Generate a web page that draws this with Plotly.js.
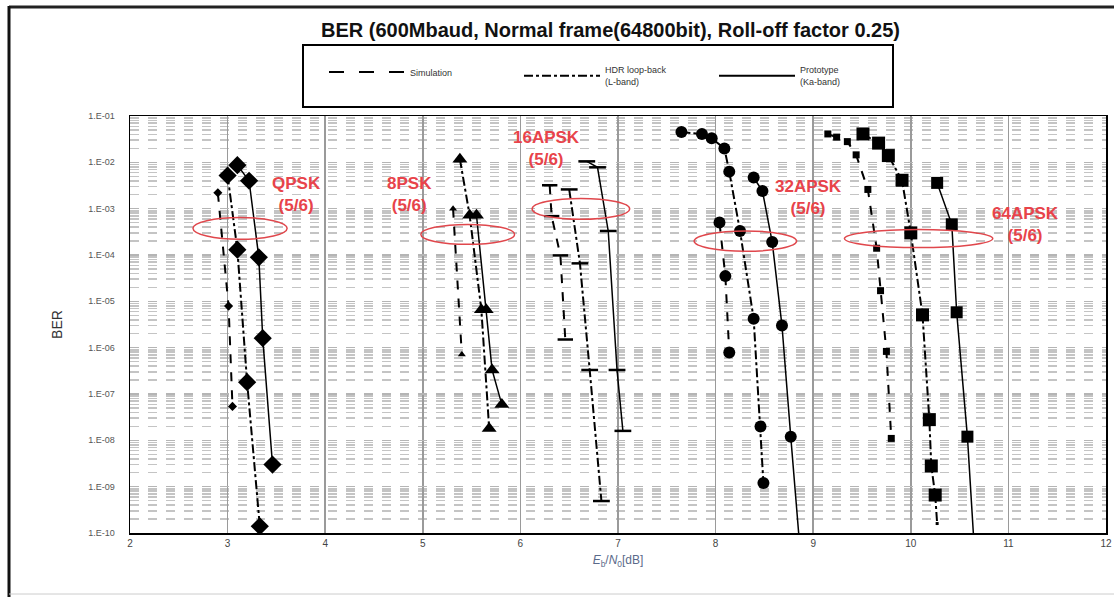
<!DOCTYPE html>
<html>
<head>
<meta charset="utf-8">
<script src="https://cdn.plot.ly/plotly-3.0.1.min.js"></script>
<style>html,body{margin:0;padding:0;background:#fff;}#chart{width:1114px;height:597px;}</style>
</head>
<body>
<div id="chart"></div>
<script>
// ---- Data (BER vs Eb/N0 [dB]) ----
const qpskSimX = [2.90, 3.01, 3.05];
const qpskSimY = [2.2e-3, 7.9e-6, 5.4e-8];
const qpskHdrX = [3.00, 3.10, 3.20, 3.33];
const qpskHdrY = [5.2e-3, 1.3e-4, 1.8e-7, 1.4e-10];
const qpskProtoX = [3.10, 3.22, 3.32, 3.36, 3.46];
const qpskProtoY = [8.7e-3, 4.0e-3, 8.9e-5, 1.6e-6, 3.0e-9];

const psk8SimX = [5.31, 5.40];
const psk8SimY = [1.0e-3, 7.1e-7];
const psk8HdrX = [5.38, 5.48, 5.60, 5.68];
const psk8HdrY = [1.17e-2, 7.2e-4, 6.6e-6, 1.8e-8];
const psk8ProtoX = [5.55, 5.65, 5.71, 5.81];
const psk8ProtoY = [7.2e-4, 6.6e-6, 3.3e-7, 5.9e-8];

const apsk16SimX = [6.30, 6.32, 6.41, 6.46];
const apsk16SimY = [3.2e-3, 6.9e-4, 9.8e-5, 1.5e-6];
const apsk16HdrX = [6.50, 6.61, 6.71, 6.83];
const apsk16HdrY = [2.6e-3, 6.6e-5, 3.3e-7, 4.9e-10];
const apsk16ProtoX = [6.68, 6.79, 6.90, 6.99, 7.05];
const apsk16ProtoY = [1.05e-2, 7.8e-3, 3.3e-4, 3.3e-7, 1.6e-8];

const apsk32SimX = [8.04, 8.10, 8.14];
const apsk32SimY = [5.0e-4, 3.5e-5, 7.9e-7];
const apsk32HdrX = [7.65, 7.86, 7.96, 8.09, 8.14, 8.25, 8.39, 8.46, 8.49];
const apsk32HdrY = [4.5e-2, 4.1e-2, 3.3e-2, 2.0e-2, 6.3e-3, 3.3e-4, 4.2e-6, 2.0e-8, 1.2e-9];
const apsk32ProtoX = [8.39, 8.48, 8.58, 8.68, 8.77, 8.89];
const apsk32ProtoY = [4.7e-3, 2.4e-3, 1.9e-4, 3.0e-6, 1.2e-8, 1.0e-11];

const apsk64SimX = [9.15, 9.24, 9.35, 9.44, 9.56, 9.65, 9.69, 9.75, 9.80];
const apsk64SimY = [4.1e-2, 3.5e-2, 2.8e-2, 1.45e-2, 2.6e-3, 1.4e-4, 1.7e-5, 8.3e-7, 1.1e-8];
const apsk64HdrX = [9.51, 9.67, 9.77, 9.91, 10.00, 10.12, 10.19, 10.21, 10.25, 10.27];
const apsk64HdrY = [4.1e-2, 2.6e-2, 1.4e-2, 4.1e-3, 3.0e-4, 5.1e-6, 2.8e-8, 2.8e-9, 6.6e-10, 1.6e-10];
const apsk64ProtoX = [10.27, 10.42, 10.47, 10.58, 10.67];
const apsk64ProtoY = [3.6e-3, 4.6e-4, 5.8e-6, 1.2e-8, 1.0e-11];

// tick labels
const yTickVals = [1e-1, 1e-2, 1e-3, 1e-4, 1e-5, 1e-6, 1e-7, 1e-8, 1e-9, 1e-10];
const yTickText = ["1.E-01","1.E-02","1.E-03","1.E-04","1.E-05","1.E-06","1.E-07","1.E-08","1.E-09","1.E-10"];
const xTickVals = [2,3,4,5,6,7,8,9,10,11,12];

// modulation labels (x in dB, y as log10 BER) and ellipse extents
const modLabels = ["QPSK<br>(5/6)", "8PSK<br>(5/6)", "16APSK<br>(5/6)", "32APSK<br>(5/6)", "64APSK<br>(5/6)"];
const labelX = [3.71, 4.86, 6.27, 8.95, 11.18];
const labelLogY = [-2.69, -2.69, -1.71, -2.76, -3.34];
const ellX0 = [2.645, 4.98, 6.12, 7.78, 9.32];
const ellX1 = [3.61, 5.94, 7.12, 8.83, 10.84];
const ellLogY0 = [-3.66, -3.77, -3.23, -3.92, -3.84];
const ellLogY1 = [-3.19, -3.34, -2.78, -3.48, -3.45];

const FONT = "'Liberation Sans', Arial, sans-serif";

function tr(x, y, kind, symbol, size) {
  const dash = kind === 'sim' ? 'dash' : (kind === 'hdr' ? 'dashdot' : 'solid');
  const lw = kind === 'proto' ? 1.5 : 2;
  const isLine = symbol === 'line-ew';
  return {
    x: x, y: y, type: 'scatter', mode: 'lines+markers', showlegend: false,
    line: {color: '#000', width: lw, dash: dash},
    marker: {symbol: symbol, size: size, color: '#000', opacity: 1,
             line: {color: '#000', width: isLine ? 2.5 : 0}},
    cliponaxis: true, hoverinfo: 'x+y'
  };
}

const hdr64Sizes = apsk64HdrX.map((v, i) => i === apsk64HdrX.length - 1 ? 3 : 13);

const traces = [
  tr(qpskSimX, qpskSimY, 'sim', 'diamond', 7),
  tr(qpskHdrX, qpskHdrY, 'hdr', 'diamond', 14),
  tr(qpskProtoX, qpskProtoY, 'proto', 'diamond', 14),
  tr(psk8SimX, psk8SimY, 'sim', 'triangle-up', 7),
  tr(psk8HdrX, psk8HdrY, 'hdr', 'triangle-up', 13),
  tr(psk8ProtoX, psk8ProtoY, 'proto', 'triangle-up', 13),
  tr(apsk16SimX, apsk16SimY, 'sim', 'line-ew', 11),
  tr(apsk16HdrX, apsk16HdrY, 'hdr', 'line-ew', 12),
  tr(apsk16ProtoX, apsk16ProtoY, 'proto', 'line-ew', 12),
  tr(apsk32SimX, apsk32SimY, 'sim', 'circle', 12),
  tr(apsk32HdrX, apsk32HdrY, 'hdr', 'circle', 12),
  tr(apsk32ProtoX, apsk32ProtoY, 'proto', 'circle', 12),
  tr(apsk64SimX, apsk64SimY, 'sim', 'square', 7),
  tr(apsk64HdrX, apsk64HdrY, 'hdr', 'square', 12),
  tr(apsk64ProtoX, apsk64ProtoY, 'proto', 'square', 12)
];
traces[13].marker.size = hdr64Sizes;

// legend-only traces
const legendNames = ["Simulation", "HDR loop-back<br>(L-band)", "Prototype<br>(Ka-band)"];
const legendDash = ['longdash', 'dashdot', 'solid'];
legendNames.forEach((n, i) => {
  traces.push({x: [null], y: [null], type: 'scatter', mode: 'lines', name: n,
    line: {color: '#000', width: 2, dash: legendDash[i]}, showlegend: true});
});

// minor grid positions (2..9 within each decade)
const minorVals = [];
for (let e = -10; e < -1; e++) for (let m = 2; m <= 9; m++) minorVals.push(m * Math.pow(10, e));

const shapes = [];
for (let i = 0; i < modLabels.length; i++) {
  shapes.push({type: 'circle', xref: 'x', yref: 'paper',
    x0: ellX0[i], x1: ellX1[i],
    y0: (ellLogY0[i] + 10) / 9, y1: (ellLogY1[i] + 10) / 9,
    line: {color: '#e0474c', width: 1.5}, fillcolor: 'rgba(0,0,0,0)'});
}
const pxX = p => (p - 130) / 976;
const pxY = p => (533 - p) / 417;
// legend box
shapes.push({type: 'rect', xref: 'paper', yref: 'paper', x0: pxX(303), x1: pxX(893), y0: pxY(107), y1: pxY(45),
  line: {color: '#000', width: 2}, fillcolor: 'rgba(0,0,0,0)'});
// outer frame (top and left heavy lines, faint bottom)
shapes.push({type: 'line', xref: 'paper', yref: 'paper', x0: pxX(9), x1: pxX(1120), y0: pxY(7), y1: pxY(7), line: {color: '#222', width: 3}});
shapes.push({type: 'line', xref: 'paper', yref: 'paper', x0: pxX(9), x1: pxX(9), y0: pxY(6), y1: pxY(600), line: {color: '#111', width: 3}});
shapes.push({type: 'line', xref: 'paper', yref: 'paper', x0: pxX(9), x1: pxX(1120), y0: pxY(594), y1: pxY(594), line: {color: '#ccc', width: 1}});

const annotations = modLabels.map((t, i) => ({
  text: t, x: labelX[i], y: labelLogY[i], xref: 'x', yref: 'y',
  showarrow: false, align: 'center',
  font: {family: FONT, size: 17, color: '#e8434a', weight: 'bold'}
}));

const layout = {
  width: 1114, height: 597,
  margin: {l: 130, r: 8, t: 116, b: 64},
  paper_bgcolor: '#fff', plot_bgcolor: '#fff',
  font: {family: FONT, color: '#333'},
  title: {text: '<b>BER (600Mbaud, Normal frame(64800bit), Roll-off factor 0.25)</b>',
          x: 0.548, xanchor: 'center', y: 0.95, yanchor: 'middle',
          font: {family: FONT, size: 20, color: '#111'}},
  showlegend: true,
  legend: {orientation: 'h', x: pxX(324), xanchor: 'left', y: pxY(76), yanchor: 'middle',
           borderwidth: 0, bgcolor: 'rgba(0,0,0,0)',
           font: {family: FONT, size: 9, color: '#333'},
           itemwidth: 76, entrywidth: 104, valign: 'middle'},
  xaxis: {
    type: 'linear', range: [2, 12], tickvals: xTickVals,
    showline: true, mirror: true, linecolor: '#000', linewidth: 1.5,
    showgrid: true, gridcolor: '#9a9a9a', gridwidth: 1.5,
    zeroline: false, ticks: '', tickfont: {size: 10, color: '#444'},
    title: {text: '<i>E</i><sub>b</sub>/<i>N</i><sub>0</sub>[dB]', standoff: 8,
            font: {size: 12, color: '#5a6a8a'}}
  },
  yaxis: {
    type: 'log', range: [-10, -1], tickmode: 'array', tickvals: yTickVals, ticktext: yTickText,
    showline: true, mirror: true, linecolor: '#000', linewidth: 1.5,
    showgrid: true, gridcolor: '#b5b5b5', gridwidth: 1.5, griddash: 'dash',
    zeroline: false, ticks: '', tickfont: {size: 9, color: '#555'}, ticklabelstandoff: 12,
    minor: {tickmode: 'array', tickvals: minorVals, showgrid: true,
            gridcolor: '#c4c4c4', gridwidth: 1.5, griddash: 'dash', ticks: ''},
    title: {text: 'BER', standoff: 22, font: {size: 14, color: '#333'}}
  },
  shapes: shapes,
  annotations: annotations
};

Plotly.newPlot('chart', traces, layout, {displayModeBar: false, staticPlot: true});
</script>
</body>
</html>
